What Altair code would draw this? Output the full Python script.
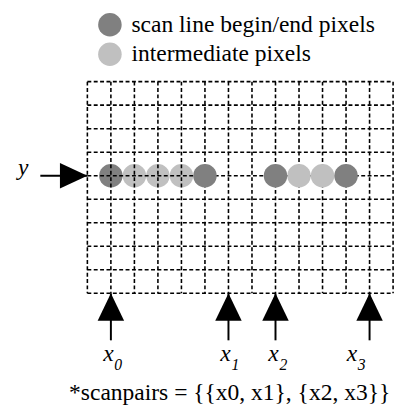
import altair as alt
import pandas as pd

# ---- data ----
grid_cols = list(range(14))   # vertical grid lines (pixel boundaries)
grid_rows = list(range(10))   # horizontal grid lines

scan_row = 4
pixel_cols = [1, 2, 3, 4, 5, 8, 9, 10, 11]
BEGIN = "scan line begin/end pixels"
MID = "intermediate pixels"
pixel_kind = [BEGIN, MID, MID, MID, BEGIN, BEGIN, MID, MID, BEGIN]
pixel_on_top = [False, False, False, False, True, True, True, True, True]

arrow_cols = [1, 6, 8, 12]
arrow_tip_row = 9
arrow_tail_row = 11
label_cols = [0.896, 5.875, 7.917, 11.25]
label_main = ["x", "x", "x", "x"]
label_sub = ["0", "1", "2", "3"]
label_row = 11.875

y_arrow_tail_col = -2
y_label_col = -2.73
y_label = "y"

caption = "*scanpairs = {{x0, x1}, {x2, x3}}"
caption_col = 6.05
caption_row = 13.54

FONT = "Liberation Serif"

xs = alt.Scale(domain=[0, 13], range=[81, 393])
ys = alt.Scale(domain=[0, 9], range=[71, 287])

def X(f):
    return alt.X(f, type="quantitative", scale=xs, axis=None)

def Y(f):
    return alt.Y(f, type="quantitative", scale=ys, axis=None)

# ---- tables ----
hlines = pd.DataFrame({"y": grid_rows, "x0": [grid_cols[0]] * len(grid_rows), "x1": [grid_cols[-1]] * len(grid_rows)})
vlines = pd.DataFrame({"x": grid_cols, "y0": [grid_rows[0]] * len(grid_cols), "y1": [grid_rows[-1]] * len(grid_cols)})
pixels = pd.DataFrame({"x": pixel_cols, "y": [scan_row] * len(pixel_cols), "kind": pixel_kind, "top": pixel_on_top})
arrows = pd.DataFrame({"x": arrow_cols, "tip": [arrow_tip_row] * 4, "tail": [arrow_tail_row] * 4})
labels = pd.DataFrame({"x": label_cols, "y": [label_row] * 4, "main": label_main, "sub": label_sub})
yarrow = pd.DataFrame({"x": [grid_cols[0]], "x0": [y_arrow_tail_col], "y": [scan_row]})
ylab = pd.DataFrame({"x": [y_label_col], "y": [scan_row], "t": [y_label]})
cap = pd.DataFrame({"x": [caption_col], "y": [caption_row], "t": [caption]})

dash = [4, 2.5]
grid_h = alt.Chart(hlines).mark_rule(color="black", strokeWidth=1.6, strokeDash=dash).encode(
    x=X("x0"), x2="x1", y=Y("y"))
grid_v = alt.Chart(vlines).mark_rule(color="black", strokeWidth=1.6, strokeDash=dash).encode(
    x=X("x"), y=Y("y0"), y2="y1")

color = alt.Color(
    "kind:N",
    scale=alt.Scale(domain=[BEGIN, MID], range=["#808080", "#c0c0c0"]),
    legend=alt.Legend(
        orient="none", legendX=92, legendY=1, title=None, padding=0,
        labelFont=FONT, labelFontSize=24, labelColor="black", labelOffset=10,
        labelLimit=400, symbolType="circle", symbolSize=576, symbolStrokeWidth=0,
        symbolOpacity=1, rowPadding=6,
    ),
)

pix_under = alt.Chart(pixels).transform_filter("!datum.top").mark_circle(size=576, opacity=1).encode(
    x=X("x"), y=Y("y"), color=color)
pix_over = alt.Chart(pixels).transform_filter("datum.top").mark_circle(size=576, opacity=1).encode(
    x=X("x"), y=Y("y"), color=color)

shafts = alt.Chart(arrows).mark_rule(color="black", strokeWidth=2).encode(
    x=X("x"), y=Y("tip"), y2="tail")
heads_up = alt.Chart(arrows).mark_point(
    shape="M0,0L0.964,2L-0.964,2Z", size=784, filled=True, fill="black", opacity=1, strokeWidth=0
).encode(x=X("x"), y=Y("tip"))

y_shaft = alt.Chart(yarrow).mark_rule(color="black", strokeWidth=2).encode(
    x=X("x0"), x2="x", y=Y("y"))
y_head = alt.Chart(yarrow).mark_point(
    shape="M0,0L-2,-0.929L-2,0.929Z", size=784, filled=True, fill="black", opacity=1, strokeWidth=0
).encode(x=X("x"), y=Y("y"))

lab_main = alt.Chart(labels).mark_text(
    font=FONT, fontSize=24, fontStyle="italic", align="center", baseline="alphabetic", color="black"
).encode(x=X("x"), y=Y("y"), text="main:N")
lab_sub = alt.Chart(labels).mark_text(
    font=FONT, fontSize=16, fontStyle="italic", align="left", baseline="alphabetic", color="black", dx=6, dy=9
).encode(x=X("x"), y=Y("y"), text="sub:N")

y_text = alt.Chart(ylab).mark_text(
    font=FONT, fontSize=24, fontStyle="italic", align="center", baseline="alphabetic", color="black", dy=-1
).encode(x=X("x"), y=Y("y"), text="t:N")

cap_text = alt.Chart(cap).mark_text(
    font=FONT, fontSize=24, align="center", baseline="alphabetic", color="black"
).encode(x=X("x"), y=Y("y"), text="t:N")

chart = alt.layer(
    pix_under, grid_h, grid_v, pix_over, shafts, heads_up, y_shaft, y_head,
    lab_main, lab_sub, y_text, cap_text,
).properties(
    width=397, height=404, autosize=alt.AutoSizeParams(type="none"), padding=0
).configure_view(stroke=None)

chart.save("out.html", embed_options={"renderer": "svg", "actions": False})
